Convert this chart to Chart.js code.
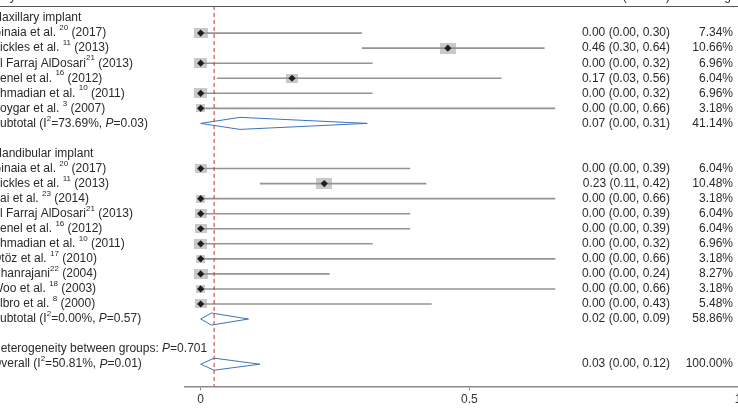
<!DOCTYPE html>
<html><head><meta charset="utf-8">
<script src="https://cdn.jsdelivr.net/npm/chart.js@4.4.1/dist/chart.umd.min.js"></script>
<style>
html,body{margin:0;padding:0;overflow:hidden;background:#fff;width:738px;height:409px;position:relative}
#c{position:absolute;left:-20px;top:-12px}
</style></head>
<body><canvas id="c" width="780" height="440"></canvas>
<script>
// ---------- data ----------
const headers = ["Study", "ES (95% CI)", "% Weight"];
const groupTitles = ["Maxillary implant", "Mandibular implant"];

const maxNames = ["Ginaia et al.", "Bickles et al.", "Al Farraj AlDosari", "Senel et al.", "Ahmadian et al.", "Soygar et al."];
const maxRefs = ["20", "11", "21", "16", "10", "3"];
const maxYears = ["2017", "2013", "2013", "2012", "2011", "2007"];
const maxES = [0.00, 0.46, 0.00, 0.17, 0.00, 0.00];
const maxLo = [0.00, 0.30, 0.00, 0.03, 0.00, 0.00];
const maxHi = [0.30, 0.64, 0.32, 0.56, 0.32, 0.66];
const maxWeight = [7.34, 10.66, 6.96, 6.04, 6.96, 3.18];

const manNames = ["Ginaia et al.", "Bickles et al.", "Kai et al.", "Al Farraj AlDosari", "Senel et al.", "Ahmadian et al.", "Ötöz et al.", "Dhanrajani", "Woo et al.", "Albro et al."];
const manRefs = ["20", "11", "23", "21", "16", "10", "17", "22", "18", "8"];
const manYears = ["2017", "2013", "2014", "2013", "2012", "2011", "2010", "2004", "2003", "2000"];
const manES = [0.00, 0.23, 0.00, 0.00, 0.00, 0.00, 0.00, 0.00, 0.00, 0.00];
const manLo = [0.00, 0.11, 0.00, 0.00, 0.00, 0.00, 0.00, 0.00, 0.00, 0.00];
const manHi = [0.39, 0.42, 0.66, 0.39, 0.39, 0.32, 0.66, 0.24, 0.66, 0.43];
const manWeight = [6.04, 10.48, 3.18, 6.04, 6.04, 6.96, 3.18, 8.27, 3.18, 5.48];

// pooled estimates: maxillary subtotal, mandibular subtotal, overall (as drawn)
const pooledLabels = ["Subtotal", "Subtotal", "Overall"];
const pooledES = [0.073, 0.02, 0.025];
const pooledLo = [0.00, 0.00, 0.00];
const pooledHi = [0.31, 0.089, 0.11];
const pooledText = ["0.07 (0.00, 0.31)", "0.02 (0.00, 0.09)", "0.03 (0.00, 0.12)"];
const pooledWeight = ["41.14%", "58.86%", "100.00%"];
const pooledI2 = ["73.69%", "0.00%", "50.81%"];
const pooledP = ["0.03", "0.57", "0.01"];
const heterogeneityP = "0.701";

const xTicks = [0, 0.5, 1];

// ---------- row layout ----------
const maxRows = maxNames.map((_, i) => 1 + i);       // 1..6
const manRows = manNames.map((_, i) => 10 + i);      // 10..19
const groupRows = [0, 9];
const pooledRows = [7, 20, 23];
const hetRow = 22;
const Y_MIN = -0.8, Y_MAX = 24.47;

const allES = maxES.concat(manES), allLo = maxLo.concat(manLo), allHi = maxHi.concat(manHi);
const allW = maxWeight.concat(manWeight), allRows = maxRows.concat(manRows);

// ---------- styles ----------
const FAM = '"Liberation Sans", Arial, sans-serif';
const TXT = '#2a2a2a';
function boxImage(w) {
  const c = document.createElement('canvas');
  const bw = Math.round(5 * Math.sqrt(w));
  const bh = Math.round(1.7 * Math.sqrt(w) + 5.2);
  c.width = bw; c.height = bh;
  const g = c.getContext('2d');
  g.fillStyle = '#c9c9c9';
  g.fillRect(0, 0, bw, bh);
  return c;
}
const boxImgs = allW.map(boxImage);

const ciData = [];
allES.forEach((e, i) => {
  ciData.push({x: allLo[i], y: allRows[i]}, {x: allHi[i], y: allRows[i]}, {x: null, y: null});
});
const diaData = [];
pooledES.forEach((e, i) => {
  const r = pooledRows[i], h = 0.4;
  diaData.push({x: pooledLo[i], y: r}, {x: e, y: r - h}, {x: pooledHi[i], y: r}, {x: e, y: r + h}, {x: pooledLo[i], y: r}, {x: null, y: null});
});
const overallES = pooledES[2];

// ---------- text plugin ----------
function fontFor(s) {
  if (s === 'sup') return `8px ${FAM}`;
  if (s === 'it') return `italic 12px ${FAM}`;
  return `12px ${FAM}`;
}
function rich(ctx, x, y, parts, align) {
  let total = 0;
  parts.forEach(p => { ctx.font = fontFor(p[1]); total += ctx.measureText(p[0]).width; });
  let cx = align === 'right' ? x - total : x;
  ctx.textAlign = 'left';
  parts.forEach(p => {
    ctx.font = fontFor(p[1]);
    ctx.fillText(p[0], cx, y + (p[1] === 'sup' ? -5 : 0));
    cx += ctx.measureText(p[0]).width;
  });
}
const OX = 20, OY = 12;
const textPlugin = {
  id: 'forestText',
  afterDraw(chart) {
    const ctx = chart.ctx, ys = chart.scales.y, ca = chart.chartArea;
    ctx.save();
    // top rule
    ctx.strokeStyle = '#555'; ctx.lineWidth = 1;
    ctx.beginPath(); ctx.moveTo(0, ca.top + 0.5); ctx.lineTo(chart.width, ca.top + 0.5); ctx.stroke();
    ctx.fillStyle = TXT;
    ctx.textBaseline = 'alphabetic';
    // headers (mostly cut off at the top)
    const hy = OY - 0.5;
    rich(ctx, OX - 15, hy, [[headers[0], '']], 'left');
    rich(ctx, OX + 670, hy, [[headers[1], '']], 'right');
    rich(ctx, OX + 741, hy, [[headers[2], '']], 'right');
    ctx.textBaseline = 'middle';
    const LX = OX - 8, ESX = OX + 670, WX = OX + 733;
    groupTitles.forEach((t, i) => rich(ctx, LX, ys.getPixelForValue(groupRows[i]), [[t, '']], 'left'));
    const studyRow = (name, ref, year, es, lo, hi, w, row) => {
      const y = ys.getPixelForValue(row);
      const nm = name.endsWith('.') ? name + ' ' : name;
      rich(ctx, LX, y, [[nm, ''], [ref, 'sup'], [' (' + year + ')', '']], 'left');
      rich(ctx, ESX, y, [[es.toFixed(2) + ' (' + lo.toFixed(2) + ', ' + hi.toFixed(2) + ')', '']], 'right');
      rich(ctx, WX, y, [[w.toFixed(2) + '%', '']], 'right');
    };
    maxNames.forEach((n, i) => studyRow(n, maxRefs[i], maxYears[i], maxES[i], maxLo[i], maxHi[i], maxWeight[i], maxRows[i]));
    manNames.forEach((n, i) => studyRow(n, manRefs[i], manYears[i], manES[i], manLo[i], manHi[i], manWeight[i], manRows[i]));
    pooledLabels.forEach((lab, i) => {
      const y = ys.getPixelForValue(pooledRows[i]);
      rich(ctx, LX, y, [[lab + ' (I', ''], ['2', 'sup'], ['=' + pooledI2[i] + ', ', ''], ['P', 'it'], ['=' + pooledP[i] + ')', '']], 'left');
      rich(ctx, ESX, y, [[pooledText[i], '']], 'right');
      rich(ctx, WX, y, [[pooledWeight[i], '']], 'right');
    });
    rich(ctx, LX, ys.getPixelForValue(hetRow), [['Heterogeneity between groups: ', ''], ['P', 'it'], ['=' + heterogeneityP, '']], 'left');
    ctx.restore();
  }
};

new Chart(document.getElementById('c'), {
  type: 'scatter',
  data: {
    datasets: [
      {label: 'weights', data: allES.map((e, i) => ({x: e, y: allRows[i]})), pointStyle: boxImgs, pointRadius: 5, order: 5},
      {label: 'ci', data: ciData, showLine: true, spanGaps: false, borderColor: '#949494', borderWidth: 1.6, pointRadius: 0, order: 4},
      {label: 'pooled', data: diaData, showLine: true, spanGaps: false, borderColor: '#3b74b8', borderWidth: 1, pointRadius: 0, order: 3},
      {label: 'overall', data: [{x: overallES, y: Y_MIN}, {x: overallES, y: Y_MAX}], showLine: true, borderColor: '#c8352e', borderWidth: 1, borderDash: [4, 3], pointRadius: 0, order: 2},
      {label: 'es', data: allES.map((e, i) => ({x: e, y: allRows[i]})), pointStyle: 'rectRot', pointRadius: 3.6, backgroundColor: '#1e1e1e', borderWidth: 0, order: 1}
    ]
  },
  options: {
    responsive: false, animation: false, events: [],
    layout: {padding: {left: 205, right: 22, top: 18, bottom: 11.7}},
    plugins: {legend: {display: false}, tooltip: {enabled: false}},
    scales: {
      x: {
        type: 'linear', min: -0.0292, max: 1.0,
        afterBuildTicks: s => { s.ticks = xTicks.map(v => ({value: v})); },
        afterFit: s => { s.height = 30; },
        grid: {display: true, drawOnChartArea: false, drawTicks: true, tickLength: 4, color: '#888', lineWidth: 1},
        border: {display: true, color: '#8a8a8a', width: 1.5},
        ticks: {padding: 2, color: '#333', font: {family: FAM, size: 12}, autoSkip: false, maxRotation: 0, callback: v => String(v)}
      },
      y: {type: 'linear', min: Y_MIN, max: Y_MAX, reverse: true, display: false}
    }
  },
  plugins: [textPlugin]
});
</script>
</body></html>
